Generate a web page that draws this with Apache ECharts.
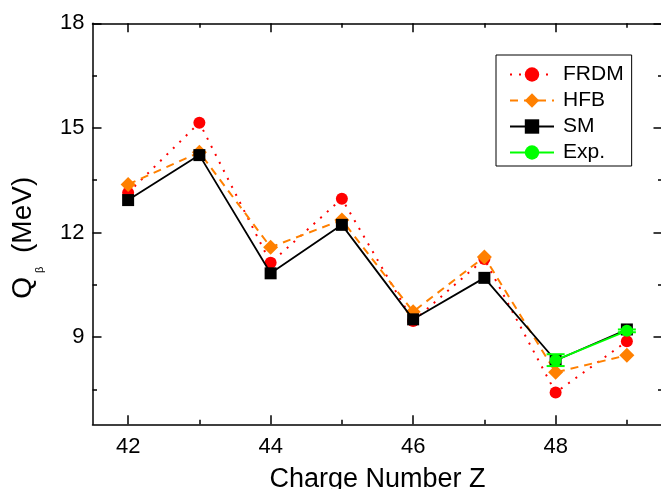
<!DOCTYPE html>
<html><head><meta charset="utf-8">
<script src="https://cdn.jsdelivr.net/npm/echarts@6/dist/echarts.min.js"></script>
<style>html,body{margin:0;padding:0;background:#fff}#c{width:661px;height:489px}</style>
</head><body><div id="c"></div><script>
const chargeZ = [42, 43, 44, 45, 46, 47, 48, 49];
const frdm = [13.14, 15.15, 11.13, 12.97, 9.46, 11.24, 7.41, 8.88];
const hfb  = [13.38, 14.30, 11.58, 12.36, 9.73, 11.30, 7.99, 8.48];
const sm   = [12.93, 14.22, 10.83, 12.22, 9.51, 10.70, 8.33, 9.22];
const expZ = [48, 49];
const expVal = [8.34, 9.18];
const expErr = [0.17, 0.04];
const xMajorTicks = [42, 44, 46, 48];
const xMinorTicks = [43, 45, 47, 49];
const yMajorTicks = [9, 12, 15, 18];
const yMinorTicks = [7.5, 10.5, 13.5, 16.5];

const FONT = "'Liberation Sans', Arial, sans-serif";
const X_MIN = 41.5, X_MAX = 49.5, Y_MIN = 6.5, Y_MAX = 18;

function zip(xs, ys) { return xs.map((x, i) => [x, ys[i]]); }

function xAx(pos, ticks, len, opts) {
  return Object.assign({
    type: 'value', position: pos, min: X_MIN, max: X_MAX,
    axisLine: { show: false, lineStyle: { color: '#000', width: 1.5 } },
    axisTick: { show: true, inside: true, length: len, customValues: ticks, lineStyle: { color: '#000', width: 1.5 } },
    axisLabel: { show: false },
    splitLine: { show: false }
  }, opts || {});
}
function yAx(pos, ticks, len, opts) {
  return Object.assign({
    type: 'value', position: pos, min: Y_MIN, max: Y_MAX,
    axisLine: { show: false, lineStyle: { color: '#000', width: 1.5 } },
    axisTick: { show: true, inside: true, length: len, customValues: ticks, lineStyle: { color: '#000', width: 1.5 } },
    axisLabel: { show: false },
    splitLine: { show: false }
  }, opts || {});
}

const chart = echarts.init(document.getElementById('c'));
chart.setOption({
  backgroundColor: '#fff',
  animation: false,
  grid: { left: 92.5, top: 23.3, width: 570, height: 401, containLabel: false, outerBoundsMode: 'none' },
  legend: {
    show: true,
    orient: 'vertical',
    left: 496, top: 55,
    data: ['FRDM', 'HFB', 'SM', 'Exp.'],
    itemWidth: 44, itemHeight: 18, itemGap: 5,
    padding: [9, 8, 3, 13],
    borderColor: '#000', borderWidth: 1,
    textStyle: { fontFamily: FONT, fontSize: 21, color: '#000', padding: [0, 0, 0, 4] }
  },
  xAxis: [
    xAx('bottom', xMajorTicks, 9, {
      name: 'Charge Number Z', nameLocation: 'middle', nameGap: 42,
      nameTextStyle: { fontFamily: FONT, fontSize: 27, color: '#000' },
      axisLine: { show: true, lineStyle: { color: '#000', width: 1.5 } },
      axisLabel: { show: true, customValues: xMajorTicks, margin: 12, fontFamily: FONT, fontSize: 22, color: '#000' }
    }),
    xAx('bottom', xMinorTicks, 4.5),
    xAx('top', xMajorTicks, 9, { axisLine: { show: true, lineStyle: { color: '#000', width: 1.5 } } }),
    xAx('top', xMinorTicks, 4.5)
  ],
  yAxis: [
    yAx('left', yMajorTicks, 9, {
      name: '{a|Q}{b|β}{a| (MeV)}', nameLocation: 'middle', nameGap: 52,
      nameTextStyle: {
        fontFamily: FONT, fontSize: 28, color: '#000', padding: [0, 28, 0, 0],
        rich: {
          a: { fontFamily: FONT, fontSize: 28, color: '#000', lineHeight: 31, verticalAlign: 'top' },
          b: { fontFamily: FONT, fontSize: 11, color: '#000', lineHeight: 11, verticalAlign: 'top', padding: [25, 6, 0, 4] }
        }
      },
      axisLine: { show: true, lineStyle: { color: '#000', width: 1.5 } },
      axisLabel: { show: true, customValues: yMajorTicks, margin: 8, fontFamily: FONT, fontSize: 22, color: '#000' }
    }),
    yAx('left', yMinorTicks, 4.5),
    yAx('right', yMajorTicks, 9),
    yAx('right', yMinorTicks, 4.5)
  ],
  series: [
    {
      name: 'FRDM', type: 'line', data: zip(chargeZ, frdm), z: 2,
      symbol: 'circle', symbolSize: 12,
      itemStyle: { color: '#ff0000' },
      lineStyle: { color: '#ff0000', width: 2, type: [2, 7] }
    },
    {
      name: 'HFB', type: 'line', data: zip(chargeZ, hfb), z: 3,
      symbol: 'diamond', symbolSize: 15,
      itemStyle: { color: '#ff8000' },
      lineStyle: { color: '#ff8000', width: 2, type: [8, 6] }
    },
    {
      name: 'SM', type: 'line', data: zip(chargeZ, sm), z: 4,
      symbol: 'rect', symbolSize: 12,
      itemStyle: { color: '#000' },
      lineStyle: { color: '#000', width: 1.8, type: 'solid' }
    },
    {
      type: 'custom', z: 5, silent: true,
      data: expZ.map((z, i) => [z, expVal[i], expErr[i]]),
      renderItem: function (params, api) {
        const x = api.value(0), y = api.value(1), e = api.value(2);
        const lo = api.coord([x, y - e]), hi = api.coord([x, y + e]);
        const w = 9, st = { stroke: '#00ff00', lineWidth: 2 };
        return { type: 'group', children: [
          { type: 'line', shape: { x1: lo[0], y1: lo[1], x2: hi[0], y2: hi[1] }, style: st },
          { type: 'line', shape: { x1: lo[0] - w, y1: lo[1], x2: lo[0] + w, y2: lo[1] }, style: st },
          { type: 'line', shape: { x1: hi[0] - w, y1: hi[1], x2: hi[0] + w, y2: hi[1] }, style: st }
        ] };
      }
    },
    {
      name: 'Exp.', type: 'line', data: zip(expZ, expVal), z: 6,
      symbol: 'circle', symbolSize: 12,
      itemStyle: { color: '#00ff00' },
      lineStyle: { color: '#00ff00', width: 2, type: 'solid' }
    }
  ]
});
</script></body></html>
